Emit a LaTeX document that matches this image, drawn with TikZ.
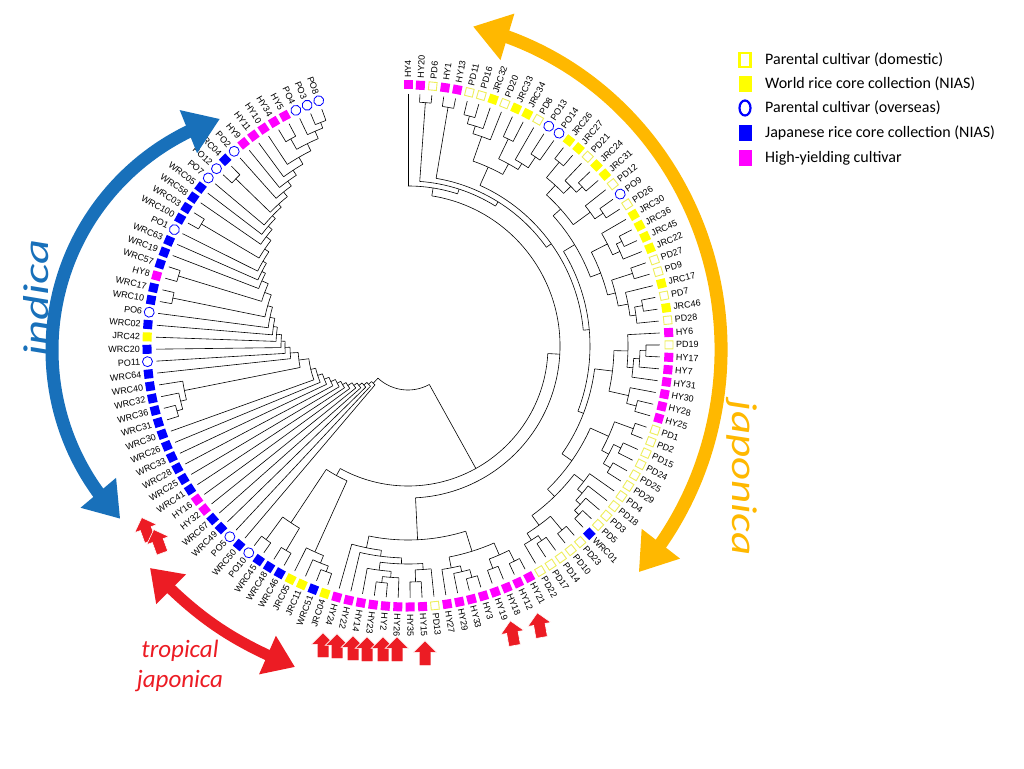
\documentclass[tikz,border=0pt]{standalone}
\usepackage{fontspec}
\setmainfont{Liberation Sans}
\newfontfamily\calfont{Carlito}
\usetikzlibrary{arrows.meta,bending,shapes.arrows,shapes.geometric}

\definecolor{hypink}{RGB}{255,0,255}
\definecolor{coreyel}{RGB}{255,255,0}
\definecolor{pdyel}{RGB}{238,238,90}
\definecolor{coreblue}{RGB}{0,0,255}
\definecolor{indblue}{RGB}{24,112,186}
\definecolor{japorange}{RGB}{255,184,0}
\definecolor{tjred}{RGB}{236,28,36}

\tikzset{
  branch/.style={black, line width=0.6pt},
  mk/.style={minimum size=9pt, inner sep=0pt, outer sep=0pt},
  mkh/.style={mk, rectangle, fill=hypink},
  mkp/.style={mk, rectangle, draw=pdyel, line width=0.9pt, fill=white, minimum size=8pt},
  mkj/.style={mk, rectangle, fill=coreyel},
  mkw/.style={mk, rectangle, fill=coreblue},
  mko/.style={mk, circle, draw=coreblue, line width=0.8pt, fill=white, minimum size=10pt},
  leaflab/.style={font=\fontsize{9}{10}\selectfont, inner sep=0pt},
  legtext/.style={font=\calfont\fontsize{16}{18}\selectfont, anchor=west, inner sep=0pt},
  bigword/.style={font=\calfont\itshape\fontsize{36}{40}\selectfont, inner sep=0pt},
  hyarrow/.style={single arrow, fill=tjred, draw=white, line width=0.6pt, inner xsep=0pt,
    inner ysep=5.5pt, single arrow head extend=6pt, minimum height=25pt},
}

% clade: name, radius, children (leaf numbers or clade names)
\newcommand\clade[3]{%
  \xdef\cmin{1000}\xdef\cmax{-1000}%
  \foreach \ch in {#3}{%
    \edef\cpos{\csname pos@\ch\endcsname}%
    \edef\crad{\csname rad@\ch\endcsname}%
    \pgfmathsetmacro\cang{90-(\cpos-1)*2.72}%
    \draw[branch] (\cang:\crad pt) -- (\cang:#2pt);%
    \pgfmathsetmacro\ctmp{min(\cmin,\cpos)}\xdef\cmin{\ctmp}%
    \pgfmathsetmacro\ctmp{max(\cmax,\cpos)}\xdef\cmax{\ctmp}%
  }%
  \pgfmathsetmacro\arcA{90-(\cmin-1)*2.72}%
  \pgfmathsetmacro\arcB{90-(\cmax-1)*2.72}%
  \draw[branch] (\arcA:#2pt) arc[start angle=\arcA, end angle=\arcB, radius=#2pt];%
  \pgfmathsetmacro\ctmp{(\cmin+\cmax)/2}%
  \expandafter\xdef\csname pos@#1\endcsname{\ctmp}%
  \expandafter\xdef\csname rad@#1\endcsname{#2}%
}

\begin{document}
\begin{tikzpicture}
\useasboundingbox (-408pt,-422pt) rectangle (616pt,346pt);

% leaves
\foreach \nm/\ty [count=\i] in {HY4/h,HY20/h,PD6/p,HY1/h,HY13/h,PD11/p,PD16/p,JRC32/j,PD20/p,JRC33/j,
  JRC34/j,PD8/p,PO13/o,PO14/o,JRC26/j,JRC27/j,PD21/p,JRC24/j,JRC31/j,PD12/p,
  PO9/o,PD26/p,JRC30/j,JRC36/j,JRC45/j,JRC22/j,PD27/p,PD9/p,JRC17/j,PD7/p,
  JRC46/j,PD28/p,HY6/h,PD19/p,HY17/h,HY7/h,HY31/h,HY30/h,HY28/h,HY25/h,
  PD1/p,PD2/p,PD15/p,PD24/p,PD25/p,PD29/p,PD4/p,PD18/p,PD3/p,PD5/p,
  WRC01/w,PD23/p,PD10/p,PD14/p,PD17/p,PD22/p,HY21/h,HY12/h,HY18/h,HY19/h,
  HY3/h,HY33/h,HY29/h,HY27/h,PD13/p,HY15/h,HY35/h,HY26/h,HY2/h,HY23/h,
  HY14/h,HY22/h,HY24/h,JRC04/j,WRC51/w,JRC11/j,JRC05/j,WRC46/w,WRC48/w,WRC45/w,
  PO10/o,WRC50/w,PO5/o,WRC49/w,WRC67/w,HY32/h,HY16/h,WRC41/w,WRC25/w,WRC28/w,
  WRC33/w,WRC26/w,WRC30/w,WRC31/w,WRC36/w,WRC32/w,WRC40/w,WRC64/w,PO11/o,WRC20/w,
  JRC42/j,WRC02/w,PO6/o,WRC10/w,WRC17/w,HY8/h,WRC57/w,WRC19/w,WRC63/w,PO1/o,
  WRC100/w,WRC03/w,WRC58/w,WRC05/w,PO7/o,PO12/o,WRC04/w,PO2/o,HY9/h,HY11/h,
  HY10/h,HY34/h,HY5/h,PO4/o,PO3/o,PO8/o}{
  \pgfmathsetmacro\a{90-(\i-1)*2.72}
  \node[mk\ty, rotate=\a] (leaf\i) at (\a:261pt) {};
  \ifnum\i<74
    \node[leaflab, anchor=west, rotate=\a] (lab\i) at (\a:268pt) {\nm};
  \else
    \node[leaflab, anchor=east, rotate=\a+180] (lab\i) at (\a:268pt) {\nm};
  \fi
  \expandafter\xdef\csname pos@\i\endcsname{\i}
  \expandafter\xdef\csname rad@\i\endcsname{252}
}

% japonica
\clade{a1}{244}{2,3}
\clade{a2}{242}{4,5}
\clade{b1}{238}{6,7}
\clade{b2}{230}{b1,8}
\clade{b3}{222}{b2,9}
\clade{b4}{230}{10,11}
\clade{b5}{228}{13,14}
\clade{b6}{215}{12,b5}
\clade{b7}{208}{b4,b6}
\clade{b8}{196}{b3,b7}
\clade{c1}{238}{15,16}
\clade{c2}{236}{18,19}
\clade{c3}{228}{17,c2}
\clade{c4}{218}{c1,c3}
\clade{c5}{236}{21,22}
\clade{c6}{226}{20,c5}
\clade{c7}{205}{c4,c6}
\clade{c8}{238}{24,25}
\clade{c9}{232}{c8,26}
\clade{c10}{224}{23,c9}
\clade{c11}{236}{27,28}
\clade{c12}{238}{30,31}
\clade{c13}{230}{c12,32}
\clade{c14}{224}{29,c13}
\clade{c15}{214}{c11,c14}
\clade{c16}{206}{c10,c15}
\clade{c17}{195}{c7,c16}
\clade{d1}{238}{34,35}
\clade{d2}{232}{d1,36}
\clade{d3}{226}{d2,37}
\clade{d4}{220}{33,d3}
\clade{d5}{236}{39,40}
\clade{d6}{226}{38,d5}
\clade{d7}{206}{d4,d6}
\clade{e1}{240}{41,42}
\clade{e2}{236}{43,44}
\clade{e3}{236}{45,46}
\clade{e4}{228}{e2,e3}
\clade{e5}{220}{e1,e4}
\clade{e6}{240}{50,51}
\clade{e7}{234}{49,e6}
\clade{e8}{228}{48,e7}
\clade{e9}{222}{47,e8}
\clade{e10}{240}{52,53}
\clade{e11}{236}{54,55}
\clade{e12}{230}{e11,56}
\clade{e13}{222}{e10,e12}
\clade{e14}{210}{e9,e13}
\clade{e15}{200}{e5,e14}
\clade{f1}{240}{57,58}
\clade{f2}{238}{59,60}
\clade{f3}{240}{61,62}
\clade{f4}{232}{f3,63}
\clade{f5}{226}{f4,64}
\clade{f6}{228}{f1,f2}
\clade{f7}{215}{f6,f5}
\clade{f8}{238}{69,70}
\clade{f9}{232}{68,f8}
\clade{f10}{226}{f9,71}
\clade{f11}{236}{66,67}
\clade{f12}{224}{65,f11}
\clade{f13}{218}{f12,f10}
\clade{f14}{212}{f13,72}
\clade{f15}{206}{f14,73}
\clade{f16}{194}{f7,f15}
\clade{k1}{188}{d7,e15}
\clade{k2}{182}{c17,k1}
\clade{k3}{176}{b8,k2}
\clade{k4}{170}{a2,k3}
\clade{k5}{165}{a1,k4}
\clade{k6}{160}{1,k5}
\clade{k7}{152}{k6,f16}
% tropical japonica
\clade{g1}{240}{74,75}
\clade{g2}{234}{76,g1}
\clade{g3}{226}{77,g2}
\clade{g4}{238}{78,79}
\clade{g5}{240}{80,81}
\clade{t1}{212}{g4,g5}
\clade{tj}{148}{g3,t1}
\clade{jap}{140}{k7,tj}
% indica
\clade{h1}{240}{94,95}
\clade{h2}{234}{h1,96}
\clade{h3}{228}{h2,97}
\clade{h4}{240}{104,105}
\clade{h5}{240}{106,107}
\clade{h6}{240}{111,112}
\clade{h7}{240}{116,117}
\clade{i1}{240}{125,126}
\clade{i2}{234}{124,i1}
\clade{i3}{238}{122,123}
\clade{i4}{226}{i3,i2}
\clade{i5}{218}{121,i4}
\clade{i6}{210}{120,i5}
\clade{i7}{204}{119,i6}
\clade{A1}{198}{118,i7}
\clade{A2}{192}{h7,A1}
\clade{A3}{188}{115,A2}
\clade{A4}{184}{114,A3}
\clade{A5}{179}{113,A4}
\clade{A6}{173}{h6,A5}
\clade{A7}{168}{110,A6}
\clade{A8}{164}{109,A7}
\clade{A9}{160}{108,A8}
\clade{A10}{153}{h5,A9}
\clade{A11}{146}{h4,A10}
\clade{A12}{141}{103,A11}
\clade{A13}{136}{102,A12}
\clade{A14}{132}{101,A13}
\clade{A15}{127}{100,A14}
\clade{A16}{123}{99,A15}
\clade{A17}{118}{98,A16}
\clade{A18}{110}{h3,A17}
\clade{A19}{100}{93,A18}
\clade{A20}{95}{92,A19}
\clade{A21}{90}{91,A20}
\clade{A22}{85}{90,A21}
\clade{A23}{80}{89,A22}
\clade{A24}{76}{88,A23}
\clade{A25}{72}{87,A24}
\clade{A26}{67}{86,A25}
\clade{A27}{63}{85,A26}
\clade{A28}{59}{84,A27}
\clade{A29}{55}{83,A28}
\clade{A30}{51}{82,A29}
\clade{root}{44}{jap,A30}

% group arrows
\draw[indblue, line width=13pt, {Triangle[width=44pt,length=34pt]}-{Triangle[width=44pt,length=34pt]}]
  (-113pt,-4pt) ++(224:243pt) arc[start angle=224, end angle=108, radius=243pt];
\draw[japorange, line width=13pt, {Triangle[width=46pt,length=36pt]}-{Triangle[width=46pt,length=36pt]}]
  (-7pt,-4pt) ++(77:320pt and 332pt) arc[start angle=77, end angle=-42, x radius=320pt, y radius=332pt];
\coordinate (tjA) at (-258pt,-222pt);
\coordinate (tjB) at (-113pt,-321pt);
\draw[tjred, line width=11pt, {Triangle[width=40pt,length=30pt]}-{Triangle[width=40pt,length=30pt]}] (tjA) to[bend right=12] (tjB);

\node[bigword, text=indblue, rotate=90, xscale=1.35] (indica) at (-372pt,48pt) {indica};
\node[bigword, text=japorange, rotate=-90, xscale=1.25] (japonica) at (334pt,-132pt) {japonica};
\node[bigword, text=tjred, align=center, font=\calfont\itshape\fontsize{25}{30}\selectfont] (tropjap) at (-228pt,-320pt) {tropical\\japonica};

% high-yielding markers
\node[hyarrow, rotate=90] (ha1) at (-85pt,-302pt) {};
\node[hyarrow, rotate=90] (ha2) at (-71pt,-303pt) {};
\node[hyarrow, rotate=90] (ha3) at (-55pt,-305pt) {};
\node[hyarrow, rotate=90] (ha4) at (-41pt,-306pt) {};
\node[hyarrow, rotate=90] (ha5) at (-25pt,-306pt) {};
\node[hyarrow, rotate=90] (ha6) at (-11pt,-306pt) {};
\node[hyarrow, rotate=90] (ha7) at (17pt,-310pt) {};
\node[hyarrow, rotate=100] (ha8) at (105pt,-290pt) {};
\node[hyarrow, rotate=100] (ha9) at (132pt,-282pt) {};
\node[hyarrow, rotate=110] (ha10) at (-261pt,-186pt) {};
\node[hyarrow, rotate=110] (ha11) at (-249pt,-198pt) {};

% legend
\node[mk, rectangle, minimum width=11pt, minimum height=14pt, draw=coreyel, line width=2.5pt, fill=white] (lg1) at (337pt,286pt) {};
\node[mk, rectangle, minimum width=13pt, minimum height=16pt, fill=coreyel] (lg2) at (337pt,262pt) {};
\node[mk, ellipse, minimum width=11pt, minimum height=15pt, draw=coreblue, line width=2.2pt] (lg3) at (337pt,238pt) {};
\node[mk, rectangle, minimum width=13pt, minimum height=16pt, fill=coreblue] (lg4) at (337pt,213pt) {};
\node[mk, rectangle, minimum width=13pt, minimum height=16pt, fill=hypink] (lg5) at (337pt,188pt) {};
\node[legtext] (lt1) at (357pt,286pt) {Parental cultivar (domestic)};
\node[legtext] (lt2) at (357pt,262pt) {World rice core collection (NIAS)};
\node[legtext] (lt3) at (357pt,238pt) {Parental cultivar (overseas)};
\node[legtext] (lt4) at (357pt,213pt) {Japanese rice core collection (NIAS)};
\node[legtext] (lt5) at (357pt,188pt) {High-yielding cultivar};
\end{tikzpicture}
\end{document}
